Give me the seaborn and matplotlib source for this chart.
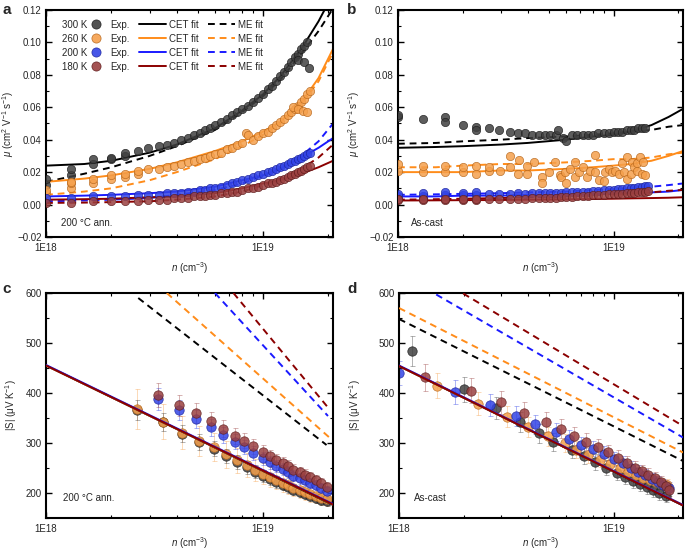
import matplotlib
matplotlib.use('Agg')
import matplotlib.pyplot as plt
import seaborn as sns
import numpy as np
from matplotlib.lines import Line2D
from matplotlib.ticker import LogLocator, FuncFormatter, MultipleLocator, NullFormatter

# ---------------- data ----------------
temps = ['300 K', '260 K', '200 K', '180 K']
point_colors = ['#404040', '#f5a04c', '#3344e6', '#9a4040']
edge_colors = ['#1a1a1a', '#b5651a', '#1a2299', '#5c1a1a']
line_colors = ['#000000', '#ff8c1a', '#1a1aff', '#8b0000']

# panel a (200 C annealed, mobility)
a_n_300 = [1.0e18, 1.0e18, 1.3e18, 1.3e18, 1.65e18, 1.65e18, 2.0e18, 2.0e18, 2.3e18, 2.3e18,
           2.65e18, 2.95e18, 3.3e18, 3.6e18, 3.9e18, 4.2e18, 4.5e18, 4.8e18, 5.1e18, 5.4e18,
           5.7e18, 6.0e18, 6.4e18, 6.8e18, 7.2e18, 7.6e18, 8.0e18, 8.5e18, 9.0e18, 9.5e18,
           1.0e19, 1.05e19, 1.1e19, 1.15e19, 1.2e19, 1.25e19, 1.3e19, 1.35e19, 1.4e19, 1.45e19,
           1.5e19, 1.55e19, 1.6e19, 1.45e19, 1.55e19, 1.63e19]
a_mu_300 = [0.012, 0.016, 0.018, 0.022, 0.025, 0.028, 0.028, 0.029, 0.030, 0.032,
            0.033, 0.035, 0.036, 0.037, 0.038, 0.040, 0.041, 0.043, 0.044, 0.046,
            0.047, 0.049, 0.051, 0.053, 0.055, 0.057, 0.059, 0.061, 0.063, 0.066,
            0.068, 0.071, 0.073, 0.076, 0.079, 0.082, 0.085, 0.088, 0.091, 0.093,
            0.096, 0.098, 0.100, 0.089, 0.088, 0.084]
a_n_260 = [1.0e18, 1.0e18, 1.3e18, 1.3e18, 1.3e18, 1.65e18, 1.65e18, 2.0e18, 2.0e18, 2.3e18,
           2.3e18, 2.65e18, 2.65e18, 2.95e18, 3.3e18, 3.6e18, 3.9e18, 4.2e18, 4.5e18, 4.8e18,
           5.1e18, 5.4e18, 5.7e18, 6.0e18, 6.4e18, 6.8e18, 7.2e18, 7.6e18, 8.0e18, 8.3e18,
           8.5e18, 9.0e18, 9.5e18, 1.0e19, 1.05e19, 1.1e19, 1.15e19, 1.2e19, 1.25e19, 1.3e19,
           1.35e19, 1.4e19, 1.45e19, 1.5e19, 1.55e19, 1.6e19, 1.65e19, 1.38e19, 1.45e19, 1.52e19,
           1.6e19]
a_mu_260 = [0.007, 0.009, 0.010, 0.013, 0.014, 0.013, 0.016, 0.016, 0.018, 0.017,
            0.019, 0.019, 0.021, 0.022, 0.022, 0.023, 0.024, 0.025, 0.026, 0.027,
            0.028, 0.029, 0.030, 0.031, 0.032, 0.034, 0.035, 0.037, 0.038, 0.044,
            0.043, 0.040, 0.042, 0.044, 0.045, 0.047, 0.049, 0.051, 0.053, 0.055,
            0.057, 0.059, 0.061, 0.063, 0.065, 0.068, 0.070, 0.060, 0.059, 0.058,
            0.057]
a_n_low = [1.0e18, 1.3e18, 1.65e18, 2.0e18, 2.3e18, 2.65e18, 2.95e18, 3.3e18, 3.6e18, 3.9e18,
           4.2e18, 4.5e18, 4.8e18, 5.1e18, 5.4e18, 5.7e18, 6.0e18, 6.4e18, 6.8e18, 7.2e18,
           7.6e18, 8.0e18, 8.5e18, 9.0e18, 9.5e18, 1.0e19, 1.05e19, 1.1e19, 1.15e19, 1.2e19,
           1.25e19, 1.3e19, 1.35e19, 1.4e19, 1.45e19, 1.5e19, 1.55e19, 1.6e19, 1.65e19]
a_mu_200 = [0.004, 0.004, 0.005, 0.005, 0.005, 0.006, 0.006, 0.006, 0.007, 0.007,
            0.007, 0.008, 0.008, 0.009, 0.009, 0.010, 0.010, 0.011, 0.012, 0.013,
            0.014, 0.015, 0.016, 0.017, 0.018, 0.019, 0.020, 0.021, 0.022, 0.023,
            0.024, 0.025, 0.026, 0.027, 0.028, 0.029, 0.030, 0.031, 0.032]
a_mu_180 = [0.001, 0.001, 0.002, 0.002, 0.002, 0.002, 0.003, 0.003, 0.003, 0.004,
            0.004, 0.004, 0.005, 0.005, 0.005, 0.006, 0.006, 0.007, 0.007, 0.008,
            0.008, 0.009, 0.010, 0.010, 0.011, 0.012, 0.013, 0.013, 0.014, 0.015,
            0.016, 0.017, 0.018, 0.019, 0.020, 0.021, 0.022, 0.023, 0.024]

n_fit = [1e18, 1.5e18, 2e18, 3e18, 4e18, 6e18, 8e18, 1e19, 1.2e19, 1.5e19, 1.8e19, 2.1e19]
a_cet = [[0.024, 0.025, 0.027, 0.032, 0.037, 0.047, 0.058, 0.068, 0.079, 0.096, 0.113, 0.130],
         [0.014, 0.016, 0.018, 0.022, 0.026, 0.033, 0.039, 0.045, 0.051, 0.063, 0.078, 0.096],
         [0.005, 0.0055, 0.006, 0.007, 0.008, 0.011, 0.015, 0.018, 0.022, 0.029, 0.035, 0.041],
         [0.003, 0.0033, 0.0036, 0.0045, 0.005, 0.007, 0.010, 0.013, 0.015, 0.019, 0.023, 0.027]]
a_me = [[0.014, 0.019, 0.023, 0.030, 0.036, 0.046, 0.057, 0.067, 0.077, 0.093, 0.107, 0.121],
        [0.006, 0.008, 0.010, 0.015, 0.020, 0.028, 0.036, 0.043, 0.050, 0.062, 0.076, 0.094],
        [0.002, 0.0025, 0.003, 0.004, 0.006, 0.009, 0.013, 0.018, 0.022, 0.030, 0.039, 0.050],
        [0.001, 0.0012, 0.0015, 0.002, 0.003, 0.005, 0.008, 0.012, 0.016, 0.022, 0.029, 0.037]]

# panel b (as-cast, mobility)
b_n_300 = [1.0e18, 1.0e18, 1.3e18, 1.65e18, 1.65e18, 2.0e18, 2.3e18, 2.3e18, 2.65e18, 2.95e18,
           3.3e18, 3.6e18, 3.9e18, 4.2e18, 4.5e18, 4.8e18, 5.1e18, 5.4e18, 5.5e18, 5.8e18,
           6.0e18, 6.4e18, 6.8e18, 7.2e18, 7.6e18, 8.0e18, 8.5e18, 9.0e18, 9.5e18, 1.0e19,
           1.05e19, 1.1e19, 1.15e19, 1.2e19, 1.25e19, 1.3e19, 1.35e19, 1.4e19]
b_mu_300 = [0.054, 0.055, 0.053, 0.054, 0.051, 0.049, 0.048, 0.046, 0.047, 0.046,
            0.045, 0.044, 0.044, 0.043, 0.043, 0.043, 0.043, 0.043, 0.046, 0.041,
            0.039, 0.043, 0.043, 0.043, 0.043, 0.043, 0.044, 0.044, 0.044, 0.045,
            0.045, 0.045, 0.046, 0.046, 0.046, 0.047, 0.047, 0.047]
b_n_260 = [1.0e18, 1.0e18, 1.3e18, 1.3e18, 1.65e18, 1.65e18, 2.0e18, 2.0e18, 2.3e18, 2.3e18,
           2.65e18, 2.65e18, 2.98e18, 3.32e18, 3.32e18, 3.6e18, 3.66e18, 3.96e18, 3.98e18, 4.28e18,
           4.65e18, 4.65e18, 5.0e18, 5.33e18, 5.63e18, 5.7e18, 5.97e18, 6.0e18, 6.3e18, 6.6e18,
           6.6e18, 6.95e18, 7.2e18, 7.55e18, 7.8e18, 8.2e18, 8.2e18, 8.6e18, 9.0e18, 9.1e18,
           9.5e18, 9.85e18, 1.02e19, 1.06e19, 1.1e19, 1.12e19, 1.15e19, 1.16e19, 1.2e19, 1.22e19,
           1.25e19, 1.29e19, 1.29e19, 1.33e19, 1.36e19, 1.37e19, 1.4e19]
b_mu_260 = [0.021, 0.025, 0.020, 0.024, 0.020, 0.024, 0.020, 0.023, 0.019, 0.024,
            0.021, 0.023, 0.021, 0.030, 0.023, 0.019, 0.0275, 0.024, 0.019, 0.026,
            0.017, 0.013, 0.020, 0.0265, 0.018, 0.017, 0.020, 0.0135, 0.022, 0.0265,
            0.017, 0.020, 0.023, 0.017, 0.021, 0.0305, 0.020, 0.015, 0.0145, 0.020,
            0.022, 0.020, 0.021, 0.019, 0.0255, 0.020, 0.0295, 0.016, 0.019, 0.0265,
            0.023, 0.021, 0.0255, 0.0295, 0.019, 0.026, 0.018]
b_n_low = [1.0e18, 1.0e18, 1.3e18, 1.3e18, 1.65e18, 1.65e18, 2.0e18, 2.0e18, 2.3e18, 2.3e18,
           2.65e18, 2.95e18, 3.3e18, 3.6e18, 3.9e18, 4.2e18, 4.5e18, 4.8e18, 5.1e18, 5.4e18,
           5.7e18, 6.0e18, 6.4e18, 6.8e18, 7.2e18, 7.6e18, 8.0e18, 8.5e18, 9.0e18, 9.5e18,
           1.0e19, 1.05e19, 1.1e19, 1.15e19, 1.2e19, 1.25e19, 1.3e19, 1.35e19, 1.4e19, 1.45e19]
b_mu_200 = [0.005, 0.0065, 0.0055, 0.007, 0.006, 0.0075, 0.006, 0.007, 0.006, 0.0075,
            0.0065, 0.0068, 0.0066, 0.007, 0.0068, 0.007, 0.0072, 0.007, 0.0072, 0.0074,
            0.0073, 0.0075, 0.0076, 0.0078, 0.008, 0.008, 0.0082, 0.0085, 0.0087, 0.009,
            0.0092, 0.0095, 0.0097, 0.010, 0.0102, 0.0105, 0.0107, 0.011, 0.0112, 0.0115]
b_mu_180 = [0.0025, 0.0035, 0.0025, 0.0035, 0.0025, 0.0035, 0.0028, 0.0036, 0.003, 0.0036,
            0.0032, 0.0034, 0.0035, 0.0036, 0.0037, 0.0038, 0.004, 0.004, 0.0042, 0.0043,
            0.0045, 0.0046, 0.0048, 0.005, 0.0052, 0.0054, 0.0056, 0.0058, 0.006, 0.0062,
            0.0064, 0.0066, 0.0068, 0.007, 0.0072, 0.0074, 0.0076, 0.0078, 0.008, 0.0082]
b_cet = [[0.035, 0.0355, 0.036, 0.037, 0.038, 0.040, 0.042, 0.043, 0.045, 0.049, 0.054, 0.059],
         [0.020, 0.020, 0.020, 0.021, 0.021, 0.022, 0.023, 0.024, 0.025, 0.027, 0.030, 0.033],
         [0.005, 0.005, 0.0055, 0.0055, 0.006, 0.006, 0.0065, 0.007, 0.007, 0.0075, 0.008, 0.009],
         [0.0025, 0.0026, 0.0027, 0.0028, 0.003, 0.0032, 0.0034, 0.0036, 0.0038, 0.004, 0.0042, 0.0045]]
b_me = [[0.0375, 0.038, 0.039, 0.040, 0.041, 0.042, 0.043, 0.044, 0.045, 0.046, 0.048, 0.049],
        [0.023, 0.023, 0.024, 0.025, 0.025, 0.026, 0.027, 0.028, 0.028, 0.029, 0.031, 0.032],
        [0.006, 0.0063, 0.0066, 0.007, 0.0075, 0.008, 0.009, 0.0095, 0.010, 0.011, 0.012, 0.013],
        [0.003, 0.0033, 0.0036, 0.004, 0.0045, 0.005, 0.006, 0.0065, 0.007, 0.0075, 0.0085, 0.009]]

# panel c (200 C annealed, Seebeck)
c_n_hi = [2.63e18, 3.45e18, 4.25e18, 5.07e18, 5.95e18, 6.75e18, 7.55e18, 8.4e18, 9.2e18, 1.0e19,
          1.073e19, 1.15e19, 1.23e19, 1.30e19, 1.38e19, 1.48e19, 1.56e19, 1.65e19, 1.75e19, 1.85e19,
          1.96e19]
c_s_300 = [365, 341, 318, 301, 288, 273, 261, 251, 242, 234, 228, 222, 216, 211, 206, 201, 197, 193, 190, 186, 183]
c_e_300 = [20, 18, 17, 16, 15, 14, 14, 13, 13, 12, 12, 12, 11, 11, 11, 10, 10, 10, 10, 10, 10]
c_s_260 = [368, 342, 320, 304, 291, 277, 265, 255, 246, 238, 232, 226, 220, 215, 210, 205, 201, 197, 194, 190, 187]
c_e_260 = [40, 35, 33, 30, 28, 27, 25, 24, 22, 21, 20, 19, 18, 17, 16, 16, 15, 15, 14, 14, 14]
c_n_lo = [3.29e18, 4.11e18, 4.93e18, 5.73e18, 6.55e18, 7.4e18, 8.2e18, 9.0e18, 9.95e18, 1.073e19,
          1.15e19, 1.23e19, 1.30e19, 1.38e19, 1.48e19, 1.56e19, 1.65e19, 1.75e19, 1.85e19, 1.96e19]
c_s_200 = [387, 366, 347, 331, 316, 302, 291, 279, 269, 261, 253, 248, 241, 234, 229, 225, 219, 215, 209, 203]
c_e_200 = [22, 20, 18, 17, 16, 15, 14, 14, 13, 13, 12, 12, 12, 11, 11, 11, 10, 10, 10, 10]
c_s_180 = [396, 375, 359, 343, 328, 314, 304, 293, 282, 273, 265, 259, 253, 246, 241, 236, 231, 226, 220, 212]
c_e_180 = [24, 21, 20, 18, 17, 16, 15, 15, 14, 13, 13, 12, 12, 12, 11, 11, 11, 10, 10, 10]
c_cet_n = [1e18, 2.1e19]
c_cet = [[455, 176], [455, 177], [456, 178], [455, 177]]
c_me_n = [[2.66e18, 1.96e19], [3.6e18, 2.02e19], [6.0e18, 1.99e19], [7.3e18, 1.99e19]]
c_me = [[590, 296], [600, 311], [600, 354], [600, 371]]

# panel d (as-cast, Seebeck)
d_n_300 = [1.15e18, 2.0e18, 2.82e18, 3.65e18, 4.5e18, 5.2e18, 6.4e18, 7.3e18, 8.2e18, 9.2e18,
           1.03e19, 1.13e19, 1.23e19, 1.33e19, 1.43e19, 1.53e19, 1.63e19, 1.75e19]
d_s_300 = [484, 407, 370, 342, 319, 302, 286, 273, 261, 250, 240, 232, 224, 217, 211, 205, 199, 193]
d_e_300 = [30, 25, 22, 20, 19, 18, 17, 16, 16, 15, 15, 14, 14, 14, 13, 13, 13, 12]
d_n_260 = [1.5e18, 2.32e18, 3.17e18, 3.98e18, 4.95e18, 5.9e18, 6.7e18, 7.6e18, 8.6e18, 9.6e18,
           1.07e19, 1.17e19, 1.27e19, 1.37e19, 1.47e19, 1.57e19, 1.67e19, 1.77e19]
d_s_260 = [414, 378, 352, 331, 313, 299, 286, 276, 266, 258, 250, 242, 236, 230, 225, 222, 218, 215]
d_e_260 = [25, 23, 21, 20, 19, 18, 17, 16, 15, 15, 14, 14, 13, 13, 13, 12, 12, 12]
d_n_200 = [1.0e18, 1.82e18, 2.65e18, 3.5e18, 4.3e18, 5.37e18, 6.2e18, 7.05e18, 8.0e18, 9.0e18,
           1.0e19, 1.1e19, 1.2e19, 1.3e19, 1.4e19, 1.5e19, 1.6e19, 1.7e19, 1.8e19]
d_s_200 = [440, 401, 375, 354, 337, 321, 308, 296, 288, 278, 268, 260, 250, 242, 235, 228, 222, 216, 210]
d_e_200 = [25, 24, 22, 20, 19, 18, 17, 16, 15, 15, 14, 14, 13, 13, 13, 12, 12, 12, 12]
d_n_180 = [1.32e18, 2.16e18, 3.0e18, 3.82e18, 4.85e18, 5.7e18, 6.55e18, 7.4e18, 8.4e18, 9.4e18,
           1.05e19, 1.15e19, 1.25e19, 1.35e19, 1.45e19, 1.55e19, 1.65e19, 1.75e19, 1.8e19]
d_s_180 = [431, 404, 381, 360, 342, 328, 314, 302, 292, 281, 270, 260, 250, 243, 236, 229, 222, 214, 206]
d_e_180 = [28, 25, 23, 21, 20, 19, 18, 17, 16, 15, 15, 14, 14, 13, 13, 13, 12, 12, 12]
d_cet_n = [1e18, 2.1e19]
d_cet = [[454, 175], [454, 176], [455, 176], [454, 175]]
d_me_n = [[1e18, 2.1e19], [1e18, 2.1e19], [1.49e18, 2.1e19], [1.99e18, 2.1e19]]
d_me = [[548, 264], [570, 281], [597, 311], [599, 334]]

# ---------------- style ----------------
sns.set_style('ticks')
plt.rcParams['font.family'] = ['Liberation Sans', 'DejaVu Sans']
plt.rcParams['mathtext.fontset'] = 'custom'
plt.rcParams['mathtext.rm'] = 'Liberation Sans'
plt.rcParams['mathtext.it'] = 'Liberation Sans:italic'
plt.rcParams['font.size'] = 7

fig = plt.figure(figsize=(6.85, 5.52), dpi=100)
ax_a = fig.add_axes([0.0672, 0.5707, 0.419, 0.4112])
ax_b = fig.add_axes([0.581, 0.5707, 0.416, 0.4112])
ax_c = fig.add_axes([0.0672, 0.0616, 0.419, 0.4076])
ax_d = fig.add_axes([0.5825, 0.0616, 0.4146, 0.4076])

dash = (0, (3.5, 2.5))


def style_axes(ax, ylim, ymaj, ymin, xlab_y):
    ax.set_xscale('log')
    ax.set_xlim(1e18, 2.1e19)
    ax.set_ylim(*ylim)
    ax.xaxis.set_major_locator(LogLocator(base=10))
    ax.xaxis.set_minor_locator(LogLocator(base=10, subs=np.arange(2, 10)))
    ax.xaxis.set_major_formatter(FuncFormatter(lambda v, p: '1E%d' % round(np.log10(v))))
    ax.xaxis.set_minor_formatter(NullFormatter())
    ax.yaxis.set_major_locator(MultipleLocator(ymaj))
    ax.yaxis.set_minor_locator(MultipleLocator(ymin))
    ax.tick_params(which='both', direction='in', top=True, right=True, labelsize=7, color='black')
    ax.tick_params(which='major', length=4, width=1)
    ax.tick_params(which='minor', length=2, width=0.8)
    ax.tick_params(axis='x', pad=4)
    ax.tick_params(axis='y', pad=3)
    for sp in ax.spines.values():
        sp.set_linewidth(1.5)
        sp.set_color('black')
    ax.set_xlabel(r'$n$ (cm$^{-3}$)', fontsize=7, va='center')
    ax.xaxis.set_label_coords(0.5, xlab_y)


def points(ax, n, y, i, s=36, z=3):
    sns.scatterplot(x=n, y=y, ax=ax, color=point_colors[i], edgecolor=edge_colors[i],
                    linewidth=0.5, s=s, alpha=0.85, legend=False, zorder=z)


def fit(ax, n, y, i, dashed=False, z=2):
    sns.lineplot(x=n, y=y, ax=ax, color=line_colors[i], linewidth=1.4, estimator=None,
                 sort=False, linestyle=dash if dashed else '-', zorder=z)


def errs(ax, n, y, e, i):
    ax.errorbar(n, y, yerr=e, fmt='none', ecolor=point_colors[i], alpha=0.4,
                elinewidth=0.7, capsize=1.8, capthick=0.7, zorder=1)


def mu_fmt(v, p):
    return ('%.2f' % v).replace('-', '\u2212')


# ---------------- panel a ----------------
for i in range(4):
    fit(ax_a, n_fit, a_cet[i], i)
    fit(ax_a, n_fit, a_me[i], i, dashed=True)
points(ax_a, a_n_300, a_mu_300, 0)
points(ax_a, a_n_260, a_mu_260, 1)
points(ax_a, a_n_low, a_mu_200, 2)
points(ax_a, a_n_low, a_mu_180, 3)
style_axes(ax_a, (-0.02, 0.12), 0.02, 0.01, -0.135)
ax_a.yaxis.set_major_formatter(FuncFormatter(mu_fmt))
ax_a.set_ylabel(r'$\mu$ (cm$^2$ V$^{-1}$ s$^{-1}$)', fontsize=7, va='center')
ax_a.yaxis.set_label_coords(-0.132, 0.5)
ax_a.text(0.052, 0.063, '200 \u00b0C ann.', transform=ax_a.transAxes, fontsize=7, va='center')

# legend: "300 K ●" then "Exp. —" "CET fit - -" "ME fit"
h1 = [Line2D([], [], ls='none', marker='o', ms=6.6, mfc=point_colors[i], mec=edge_colors[i],
             mew=0.5, alpha=0.9) for i in range(4)]
leg1 = ax_a.legend(h1, temps, loc='upper left', bbox_to_anchor=(0.0547, 0.958), frameon=False,
                   markerfirst=False, handlelength=0.9, handletextpad=0.45, labelspacing=0.42,
                   borderpad=0, borderaxespad=0, fontsize=7)
ax_a.add_artist(leg1)
h2 = ([Line2D([], [], color=line_colors[i], lw=1.4) for i in range(4)]
      + [Line2D([], [], color=line_colors[i], lw=1.4, ls=dash) for i in range(4)]
      + [Line2D([], [], ls='none') for i in range(4)])
l2 = ['Exp.'] * 4 + ['CET fit'] * 4 + ['ME fit'] * 4
ax_a.legend(h2, l2, ncol=3, loc='upper left', bbox_to_anchor=(0.2254, 0.958), frameon=False,
            markerfirst=False, handlelength=2.75, handletextpad=0.95, columnspacing=0.35,
            labelspacing=0.42, borderpad=0, borderaxespad=0, fontsize=7)

# ---------------- panel b ----------------
for i in range(4):
    fit(ax_b, n_fit, b_cet[i], i)
    fit(ax_b, n_fit, b_me[i], i, dashed=True)
points(ax_b, b_n_300, b_mu_300, 0)
points(ax_b, b_n_260, b_mu_260, 1)
points(ax_b, b_n_low, b_mu_200, 2)
points(ax_b, b_n_low, b_mu_180, 3)
style_axes(ax_b, (-0.02, 0.12), 0.02, 0.01, -0.135)
ax_b.yaxis.set_major_formatter(FuncFormatter(mu_fmt))
ax_b.set_ylabel(r'$\mu$ (cm$^2$ V$^{-1}$ s$^{-1}$)', fontsize=7, va='center')
ax_b.yaxis.set_label_coords(-0.155, 0.5)
ax_b.text(0.045, 0.063, 'As-cast', transform=ax_b.transAxes, fontsize=7, va='center')

# ---------------- panel c ----------------
errs(ax_c, c_n_hi, c_s_260, c_e_260, 1)
errs(ax_c, c_n_hi, c_s_300, c_e_300, 0)
errs(ax_c, c_n_lo, c_s_200, c_e_200, 2)
errs(ax_c, c_n_lo, c_s_180, c_e_180, 3)
points(ax_c, c_n_hi, c_s_300, 0, s=46, z=2)
points(ax_c, c_n_hi, c_s_260, 1, s=46, z=2)
points(ax_c, c_n_lo, c_s_200, 2, s=46, z=2)
points(ax_c, c_n_lo, c_s_180, 3, s=46, z=2)
for i in range(4):
    fit(ax_c, c_cet_n, c_cet[i], i, z=4)
    fit(ax_c, c_me_n[i], c_me[i], i, dashed=True, z=4)
style_axes(ax_c, (150, 600), 100, 50, -0.11)
ax_c.set_ylabel('|S| (\u03bcV K$^{-1}$)', fontsize=7, va='center')
ax_c.yaxis.set_label_coords(-0.12, 0.5)
ax_c.text(0.06, 0.09, '200 \u00b0C ann.', transform=ax_c.transAxes, fontsize=7, va='center')

# ---------------- panel d ----------------
errs(ax_d, d_n_260, d_s_260, d_e_260, 1)
errs(ax_d, d_n_300, d_s_300, d_e_300, 0)
errs(ax_d, d_n_200, d_s_200, d_e_200, 2)
errs(ax_d, d_n_180, d_s_180, d_e_180, 3)
points(ax_d, d_n_300, d_s_300, 0, s=46, z=2)
points(ax_d, d_n_260, d_s_260, 1, s=46, z=2)
points(ax_d, d_n_200, d_s_200, 2, s=46, z=2)
points(ax_d, d_n_180, d_s_180, 3, s=46, z=2)
for i in range(4):
    fit(ax_d, d_cet_n, d_cet[i], i, z=4)
    fit(ax_d, d_me_n[i], d_me[i], i, dashed=True, z=4)
style_axes(ax_d, (150, 600), 100, 50, -0.11)
ax_d.set_ylabel('|S| (\u03bcV K$^{-1}$)', fontsize=7, va='center')
ax_d.yaxis.set_label_coords(-0.155, 0.5)
ax_d.text(0.053, 0.09, 'As-cast', transform=ax_d.transAxes, fontsize=7, va='center')

for lab, x, y in [('a', 0.004, 0.995), ('b', 0.507, 0.995), ('c', 0.004, 0.49), ('d', 0.507, 0.49)]:
    fig.text(x, y, lab, fontsize=11, fontweight='bold', va='top', ha='left')

fig.savefig('out.png', dpi=100)
